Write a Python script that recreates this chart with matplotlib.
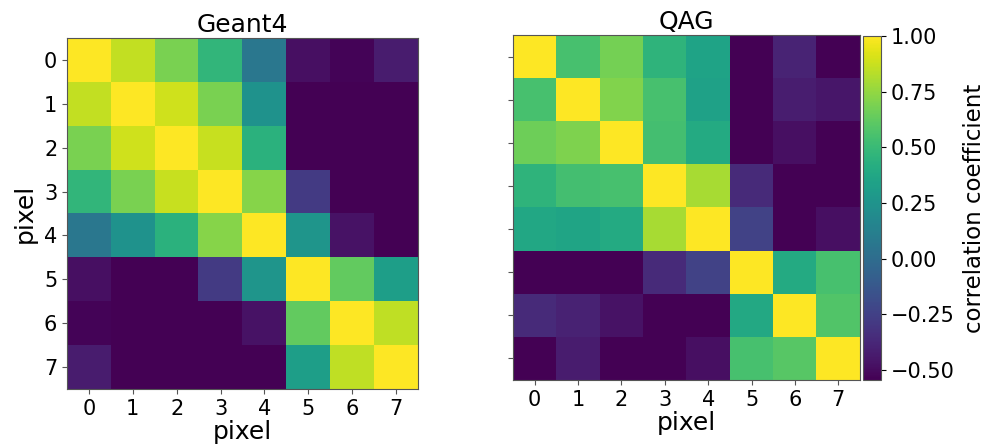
import numpy as np
import matplotlib
matplotlib.use("Agg")
import matplotlib.pyplot as plt

pixels = list(range(8))

geant4_corr = [
    [1.00, 0.86, 0.69, 0.47, 0.07, -0.48, -0.53, -0.43],
    [0.86, 1.00, 0.89, 0.69, 0.24, -0.545, -0.545, -0.545],
    [0.69, 0.89, 1.00, 0.87, 0.44, -0.545, -0.545, -0.545],
    [0.47, 0.69, 0.87, 1.00, 0.72, -0.28, -0.545, -0.545],
    [0.07, 0.24, 0.44, 0.72, 1.00, 0.26, -0.47, -0.545],
    [-0.48, -0.545, -0.545, -0.28, 0.26, 1.00, 0.63, 0.32],
    [-0.53, -0.545, -0.545, -0.545, -0.47, 0.63, 1.00, 0.85],
    [-0.43, -0.545, -0.545, -0.545, -0.545, 0.32, 0.85, 1.00],
]

qag_corr = [
    [1.00, 0.55, 0.68, 0.46, 0.35, -0.545, -0.39, -0.545],
    [0.55, 1.00, 0.71, 0.55, 0.34, -0.545, -0.42, -0.45],
    [0.66, 0.70, 1.00, 0.54, 0.40, -0.545, -0.48, -0.545],
    [0.46, 0.54, 0.55, 1.00, 0.80, -0.36, -0.545, -0.545],
    [0.38, 0.36, 0.40, 0.80, 1.00, -0.24, -0.545, -0.48],
    [-0.545, -0.545, -0.545, -0.36, -0.24, 1.00, 0.40, 0.55],
    [-0.36, -0.40, -0.47, -0.545, -0.545, 0.39, 1.00, 0.58],
    [-0.545, -0.43, -0.545, -0.545, -0.48, 0.55, 0.60, 1.00],
]

cbar_ticks = [-0.50, -0.25, 0.00, 0.25, 0.50, 0.75, 1.00]
vmin, vmax = -0.545, 1.0

W, H = 987, 447
fig = plt.figure(figsize=(W / 100, H / 100), dpi=100)


def box(x0, y0, x1, y1):
    return [x0 / W, (H - y1) / H, (x1 - x0) / W, (y1 - y0) / H]


ax1 = fig.add_axes(box(67, 38, 418, 389))
ax2 = fig.add_axes(box(513, 35, 860, 380))
cax = fig.add_axes(box(863, 36, 881, 380))

tick_fs = 15
label_fs = 18

im1 = ax1.imshow(np.array(geant4_corr), cmap="viridis", vmin=vmin, vmax=vmax,
                 aspect="auto")
im2 = ax2.imshow(np.array(qag_corr), cmap="viridis", vmin=vmin, vmax=vmax,
                 aspect="auto")

ax1.set_title("Geant4", fontsize=label_fs, pad=4)
ax2.set_title("QAG", fontsize=label_fs, pad=4)

for ax in (ax1, ax2):
    ax.set_xticks(pixels)
    ax.set_xticklabels([str(p) for p in pixels], fontsize=tick_fs)
    ax.set_yticks(pixels)
    ax.set_xlabel("pixel", fontsize=label_fs, labelpad=1)
    for s in ax.spines.values():
        s.set_color("#555555")
    ax.tick_params(color="#555555")

ax1.set_yticklabels([str(p) for p in pixels], fontsize=tick_fs)
ax1.set_ylabel("pixel", fontsize=label_fs, labelpad=5)
ax2.set_yticklabels([])

cb = fig.colorbar(im2, cax=cax, ticks=cbar_ticks)
cb.ax.set_yticklabels([f"{t:.2f}".replace("-", "\u2212") for t in cbar_ticks],
                      fontsize=tick_fs)
cb.set_label("correlation coefficient", fontsize=16.5, labelpad=6)
cb.outline.set_edgecolor("#555555")

fig.savefig("out.png", dpi=100)
